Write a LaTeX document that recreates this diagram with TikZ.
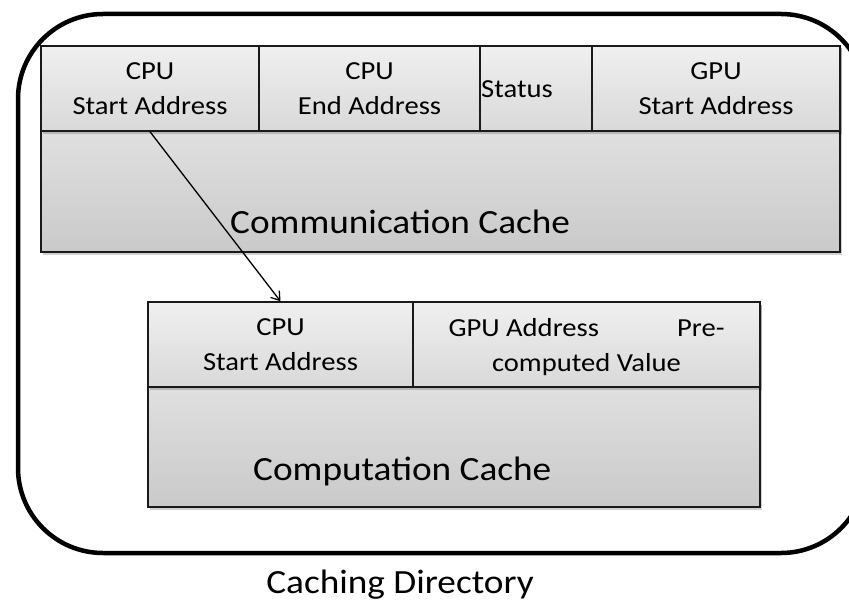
\documentclass[tikz,border=0pt]{standalone}
\usepackage{fontspec}
\setmainfont{Carlito}[FakeStretch=1.1]
\usetikzlibrary{arrows.meta,shadows}
\tikzset{
  cellbox/.style={draw=black!90, line width=1.4pt, top color=gray!12, bottom color=gray!30,
    inner sep=0pt, text depth=0pt, align=center, font=\fontsize{26}{35}\selectfont,
    drop shadow={shadow xshift=2pt, shadow yshift=-2.5pt, opacity=0.18, fill=black}},
  bodybox/.style={cellbox, bottom color=gray!42},
  bigtext/.style={font=\fontsize{33.9}{40}\selectfont, inner sep=0pt, anchor=base west},
  smalltext/.style={font=\fontsize{26}{35}\selectfont, inner sep=0pt},
  frame/.style={line width=4.5pt, rounded corners=85pt},
  link/.style={line width=1.3pt, -{Straight Barb[length=8pt,width=11pt,line width=1.3pt]}}
}
\begin{document}
\begin{tikzpicture}[x=1pt,y=-1pt]
\useasboundingbox (0,0) rectangle (849,602);
\begin{scope}
\clip (0,0) rectangle (849,602);
\draw[frame] (18,14) rectangle (866,553);
\end{scope}
% Communication cache
\node[bodybox, minimum width=799pt, minimum height=206pt] (comm) at (440.5,149) {};
\node[cellbox, minimum width=218pt, minimum height=85pt] (c1) at (150,88.5) {CPU\\Start Address};
\node[cellbox, minimum width=221pt, minimum height=85pt] (c2) at (369.5,88.5) {CPU\\End Address};
\node[cellbox, minimum width=112pt, minimum height=85pt] (c3) at (536,88.5) {};
\node[cellbox, minimum width=248pt, minimum height=85pt] (c4) at (716,88.5) {GPU\\Start Address};
\node[smalltext, anchor=base west] (status) at (481,97) {Status};
\node[bigtext] (commlbl) at (230,233) {Communication Cache};
% Computation cache
\node[bodybox, minimum width=612pt, minimum height=205pt] (comp) at (454,404.5) {};
\node[cellbox, minimum width=265pt, minimum height=85pt] (d1) at (280.5,344.5) {CPU\\Start Address};
\node[cellbox, minimum width=347pt, minimum height=85pt] (d2) at (586.5,344.5) {\makebox[276pt]{GPU Address\hfill Pre-}\\computed Value};
\node[bigtext] (complbl) at (253,480) {Computation Cache};
\node[bigtext, anchor=base] (dirlbl) at (400,593.5) {Caching Directory};
\draw[link] (c1.south) -- (d1.north);
\end{tikzpicture}
\end{document}
